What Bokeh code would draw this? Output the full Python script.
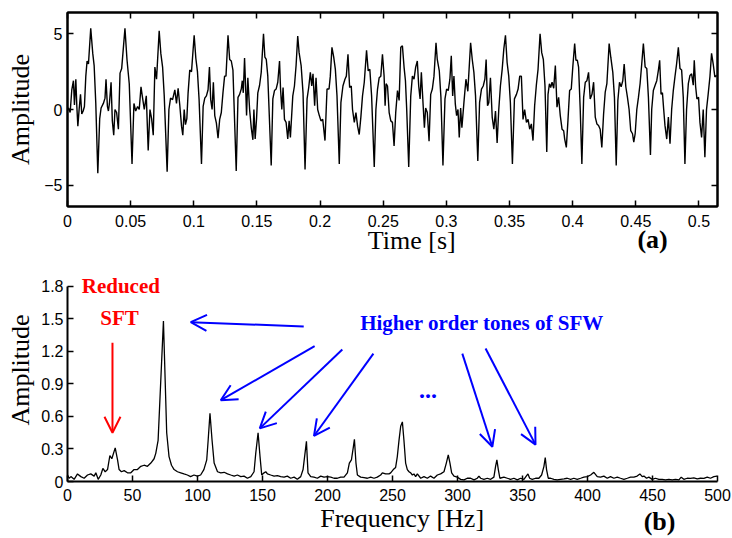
from bokeh.plotting import figure
from bokeh.layouts import column
from bokeh.models import (Range1d, LinearAxis, FixedTicker, Label, Arrow, OpenHead,
                          NumeralTickFormatter, CustomJSTickFormatter)
from bokeh.embed import file_html
from bokeh.resources import INLINE

# ---------------- data: (a) time signal ----------------
time_ms = [
    0, 0.8, 2.1, 3.4, 4.7, 5.5, 6.6, 7.4, 8.2, 9.2,
    10.3, 11.3, 12.4, 13.4, 14.5, 15.5, 16.6, 18.4, 20.0, 21.1,
    22.4, 24.0, 25.5, 26.6, 28.4, 29.7, 30.5, 31.6, 32.4, 33.2,
    34.5, 35.5, 36.6, 37.6, 38.9, 40.3, 41.6, 42.9, 45.5, 47.1,
    48.9, 51.1, 52.6, 54.0, 55.5, 56.8, 58.2, 59.2, 60.8, 62.4,
    63.9, 65.3, 66.6, 67.9, 69.2, 70.5, 72.6, 73.9, 75.3, 76.6,
    78.9, 80.3, 81.6, 83.2, 85.0, 86.3, 87.6, 88.9, 90.3, 91.3,
    92.4, 93.4, 94.5, 95.5, 96.8, 98.2, 100.3, 101.6, 102.9, 104.2,
    106.1, 107.4, 108.7, 110.0, 111.3, 112.4, 113.4, 114.5, 115.5, 116.6,
    117.9, 119.2, 120.5, 121.8, 123.1, 124.4, 125.5, 127.1, 128.4, 129.7,
    131.0, 133.6, 135.0, 136.3, 137.6, 138.4, 139.2, 140.2, 141.0, 141.8,
    142.8, 144.2, 145.5, 146.8, 147.6, 148.6, 149.7, 150.7, 152.1, 153.4,
    155.2, 156.3, 157.4, 158.6, 161.3, 162.6, 163.9, 165.2, 166.5, 167.9,
    168.7, 169.7, 170.7, 171.8, 173.1, 174.4, 175.5, 176.5, 178.4, 179.7,
    181.0, 182.3, 183.4, 185.0, 186.5, 188.1, 189.7, 191.0, 192.3, 193.4,
    194.4, 195.7, 196.8, 198.1, 199.4, 200.7, 202.1, 203.9, 205.5, 207.1,
    208.1, 209.4, 210.8, 212.1, 213.4, 215.2, 216.5, 218.1, 219.7, 220.8,
    222.1, 223.4, 224.7, 225.7, 227.1, 228.4, 229.7, 231.0, 232.3, 233.6,
    235.0, 236.8, 238.1, 239.4, 240.8, 242.9, 244.2, 245.5, 246.8, 248.1,
    249.4, 250.7, 251.5, 252.3, 253.4, 254.7, 256.0, 257.3, 258.6, 259.9,
    261.3, 262.6, 263.9, 265.2, 266.5, 267.6, 268.6, 270.2, 271.8, 273.1,
    274.4, 275.7, 277.0, 278.1, 279.2, 280.2, 281.5, 282.6, 283.6, 284.9,
    286.3, 287.6, 288.9, 290.2, 291.8, 292.8, 294.4, 295.7, 297.3, 298.9,
    300.2, 301.5, 302.8, 303.9, 305.0, 306.0, 307.1, 308.1, 309.2, 310.2,
    311.3, 312.3, 313.9, 315.5, 317.0, 319.2, 320.5, 321.8, 323.1, 324.9,
    326.3, 327.8, 329.2, 330.5, 331.5, 332.6, 333.6, 334.9, 336.3, 337.6,
    338.9, 340.2, 341.5, 342.8, 344.2, 345.5, 346.8, 348.1, 349.4, 350.7,
    352.3, 353.9, 355.5, 356.8, 358.1, 359.4, 360.7, 362.0, 363.4, 364.7,
    366.0, 367.3, 368.6, 369.9, 371.3, 372.6, 374.2, 375.5, 376.8, 378.1,
    379.5, 380.5, 381.6, 382.6, 383.7, 385.0, 386.3, 387.6, 388.9, 390.2,
    391.6, 392.9, 393.7, 395.0, 396.3, 397.6, 398.9, 400.2, 401.6, 402.6,
    403.7, 404.7, 406.0, 407.3, 408.7, 410.0, 411.3, 412.6, 413.9, 415.3,
    416.6, 417.9, 419.2, 420.5, 421.8, 423.1, 424.5, 425.8, 427.1, 428.9,
    430.2, 431.8, 433.1, 434.5, 435.8, 437.1, 438.4, 439.7, 440.8, 442.1,
    443.4, 444.7, 446.0, 447.4, 448.4, 449.5, 450.8, 452.1, 453.4, 454.7,
    456.0, 457.4, 458.7, 460.0, 461.6, 462.6, 463.9, 465.3, 466.6, 467.9,
    468.9, 470.0, 471.1, 472.1, 473.1, 474.5, 475.8, 477.1, 478.4, 479.7,
    481.0, 482.3, 483.7, 485.0, 486.3, 487.6, 488.9, 490.2, 491.6, 492.9,
    494.2, 495.5, 496.3, 497.4, 498.4, 499.7, 500.8, 502.1, 503.4, 504.7,
    506.0, 507.3, 508.7, 510.0, 511.3, 512.6, 514.0,
]
time_amp = [
    0.0, 0.1, -0.2, 1.3, 1.9, 0.3, 2.0, 0.2, -1.1, 0.0,
    1.0, -0.3, -0.1, 0.2, 2.2, 3.2, 3.0, 5.35, 3.7, 2.9,
    0.4, -4.2, -0.6, 0.1, 0.4, 0.75, 2.0, 0.2, -0.1, 0.4,
    1.8, -0.75, -1.7, 0.0, -0.2, -1.3, 2.4, 2.7, 5.35, 3.3,
    1.7, -3.6, 0.4, -0.1, 0.2, 0.0, 1.5, 0.9, 0.0, 0.9,
    -2.7, 0.0, -0.6, -1.7, 2.8, 2.0, 5.2, 3.7, 2.8, 0.9,
    -4.1, 0.0, 0.75, 0.65, 1.3, 0.4, 1.4, 0.3, -1.1, -1.7,
    0.0, -1.0, -0.6, 1.1, 2.6, 2.5, 4.9, 3.4, 2.5, 0.65,
    -3.6, 0.2, 0.75, 0.9, 1.3, 2.8, 0.65, 0.0, 1.8, -0.4,
    -0.9, -1.9, -0.65, -0.2, 1.1, 2.2, 2.2, 4.9, 3.3, 3.2,
    2.6, -4.05, 0.8, 1.0, 1.35, 1.9, 1.1, 3.4, 1.6, -0.4,
    2.1, 0.0, -1.2, -2.0, 0.0, -1.95, -0.6, 1.1, 1.6, 2.45,
    5.0, 3.45, 3.3, 2.2, -3.7, 0.7, 1.25, 1.35, 1.8, 3.2,
    1.35, 0.0, 1.45, -0.65, -0.85, -1.95, -0.75, -1.85, 0.9, 1.55,
    2.9, 4.85, 3.75, 2.9, 1.1, -3.95, 0.7, 1.45, 2.45, 1.55,
    2.35, 0.25, 2.1, 0.0, -0.4, -0.75, -0.65, -2.05, 1.35, 1.35,
    2.2, 4.1, 3.45, 2.65, 0.9, -3.6, 0.45, 1.55, 2.0, 2.2,
    3.65, 1.45, 1.55, 0.0, -0.85, -0.2, -1.1, -1.65, -0.5, 0.9,
    1.8, 3.9, 2.55, 2.65, 0.9, -3.8, 0.0, 1.35, 2.1, 2.2,
    3.65, 2.2, 0.25, 1.7, 1.55, -0.2, -0.75, -0.85, -2.4, -0.2,
    1.25, 0.6, 4.1, 4.2, 2.8, 1.9, 0.0, -3.8, 0.9, 2.2,
    2.0, 2.8, 3.2, 1.55, 0.7, 2.45, 0.45, -1.2, 0.1, -0.2,
    -2.1, 1.0, 1.35, 2.2, 4.4, 3.3, 2.55, 0.8, -3.7, 0.7,
    1.35, 1.25, 2.0, 3.55, 0.9, 2.2, 0.35, -0.4, 0.0, -1.85,
    0.1, -1.2, 0.45, 2.0, 1.2, 4.4, 3.3, 2.45, 0.9, -3.4,
    0.45, 1.35, 1.55, 2.0, 3.3, 0.25, 0.45, 2.1, -0.5, -1.3,
    -0.1, -2.2, 0.0, 1.55, 2.65, 4.0, 4.9, 3.1, 2.2, 0.45,
    -3.6, 0.7, 1.0, 1.35, 2.2, 2.2, -0.65, 0.0, -0.85, -0.65,
    -1.3, -0.95, -2.05, 0.25, 1.65, 2.65, 5.0, 3.75, 3.3, 1.55,
    -2.8, 1.0, 1.7, 1.45, 1.8, 1.4, 2.9, 0.15, 0.8, -0.4,
    -1.3, -1.4, -1.95, -2.5, -0.7, 1.25, 1.35, 2.9, 4.35, 3.25,
    3.25, 2.8, 0.0, -3.6, 0.8, 1.8, 1.9, 2.45, 0.7, 1.0,
    1.8, -0.5, -0.95, -1.05, -1.3, -2.5, -0.3, 1.15, 1.7, 4.35,
    3.45, 2.45, 0.8, -3.7, 0.6, 1.8, 1.5, 1.9, 3.0, 1.5,
    0.8, 0.0, -1.4, -1.6, -2.15, -1.6, 0.0, 0.8, 1.7, 3.0,
    4.35, 2.8, 2.7, 0.8, -3.0, 0.0, 1.25, 1.6, 1.9, 2.6,
    3.25, 1.0, 1.1, 0.0, -1.05, -1.95, -0.5, -2.25, 0.0, 1.25,
    2.15, 3.0, 4.1, 2.7, 2.6, 0.8, -3.6, 0.0, 1.7, 2.25,
    2.35, 1.6, 3.25, 1.5, 0.7, 0.8, -0.85, -1.85, 0.0, -3.15,
    0.0, 1.0, 2.15, 3.7, 3.0, 2.15, 2.25,
]
time_s = [t / 1000.0 for t in time_ms]

# ---------------- data: (b) spectrum ----------------
freq_hz = [
    0, 1.3, 2.6, 5.1, 7.7, 10.3, 12.8, 15.4, 17.9, 20.5,
    21.8, 23.6, 25.6, 27.2, 29.0, 30.8, 32.6, 34.1, 36.7, 38.5,
    39.7, 41.5, 43.6, 46.1, 48.7, 51.2, 53.8, 56.4, 58.9, 61.5,
    64.1, 66.6, 67.9, 69.7, 73.8, 76.3, 78.1, 80.0, 82.0, 84.6,
    87.1, 89.6, 92.2, 94.7, 97.3, 99.9, 102.4, 104.9, 107.1, 108.2,
    109.6, 111.2, 112.8, 115.4, 117.9, 120.5, 123.1, 125.6, 128.2, 130.7,
    133.3, 135.8, 138.4, 141.0, 143.5, 144.8, 146.6, 148.1, 149.4, 151.2,
    152.5, 153.8, 156.3, 158.9, 161.5, 164.0, 166.6, 169.1, 171.7, 174.3,
    176.8, 179.4, 181.2, 183.8, 185.0, 187.1, 189.6, 192.2, 194.8, 197.3,
    199.9, 202.5, 205.0, 207.6, 210.1, 212.7, 215.3, 216.8, 218.4, 219.9,
    220.7, 221.9, 223.0, 225.5, 228.1, 230.7, 233.2, 235.8, 238.3, 240.9,
    242.2, 244.7, 247.3, 248.6, 250.6, 252.4, 253.7, 255.0, 256.3, 257.6,
    258.8, 260.1, 261.4, 262.7, 264.0, 265.3, 266.5, 267.8, 269.1, 271.7,
    274.2, 276.8, 279.3, 281.9, 284.5, 287.0, 289.6, 291.4, 292.9, 294.2,
    295.5, 297.3, 299.8, 302.4, 305.0, 307.5, 310.1, 312.7, 315.2, 316.5,
    317.8, 320.3, 322.9, 325.5, 328.0, 329.3, 330.3, 331.4, 332.6, 335.7,
    338.3, 340.8, 343.4, 346.0, 348.5, 351.1, 352.9, 354.2, 355.5, 357.5,
    360.1, 362.6, 364.7, 366.5, 367.5, 368.5, 369.8, 371.6, 374.2, 376.7,
    379.3, 381.9, 384.4, 387.0, 389.5, 392.1, 394.7, 397.2, 399.8, 402.4,
    404.9, 407.5, 410.0, 412.6, 415.2, 417.7, 420.3, 422.9, 425.4, 428.0,
    430.6, 433.1, 435.7, 438.2, 440.3, 442.1, 443.4, 445.4, 447.2, 449.8,
    452.3, 454.9, 457.5, 460.0, 462.6, 465.2, 467.7, 470.3, 472.1, 474.1,
    476.7, 479.2, 481.8, 484.4, 486.9, 489.5, 492.1, 494.6, 497.2, 499.7,
]
freq_amp = [
    0.06, 0.03, 0.045, 0.02, 0.07, 0.045, 0.03, 0.06, 0.07, 0.05,
    0.08, 0.02, 0.06, 0.12, 0.09, 0.11, 0.24, 0.21, 0.31, 0.20,
    0.11, 0.09, 0.10, 0.08, 0.08, 0.11, 0.11, 0.14, 0.15, 0.14,
    0.17, 0.21, 0.26, 0.38, 1.48, 0.45, 0.23, 0.15, 0.11, 0.09,
    0.08, 0.07, 0.06, 0.045, 0.06, 0.05, 0.06, 0.11, 0.20, 0.38,
    0.63, 0.38, 0.17, 0.09, 0.08, 0.085, 0.07, 0.06, 0.05, 0.06,
    0.045, 0.05, 0.03, 0.045, 0.09, 0.26, 0.45, 0.23, 0.06, 0.08,
    0.09, 0.07, 0.06, 0.05, 0.055, 0.045, 0.04, 0.05, 0.03, 0.04,
    0.02, 0.045, 0.11, 0.37, 0.08, 0.045, 0.04, 0.03, 0.05, 0.04,
    0.045, 0.04, 0.03, 0.03, 0.04, 0.04, 0.08, 0.17, 0.20, 0.32,
    0.39, 0.17, 0.06, 0.04, 0.035, 0.03, 0.04, 0.03, 0.04, 0.06,
    0.08, 0.07, 0.07, 0.08, 0.11, 0.13, 0.23, 0.38, 0.51, 0.55,
    0.38, 0.17, 0.11, 0.09, 0.08, 0.06, 0.07, 0.045, 0.07, 0.03,
    0.045, 0.03, 0.05, 0.03, 0.06, 0.07, 0.09, 0.17, 0.245, 0.17,
    0.08, 0.05, 0.04, 0.02, 0.015, 0.03, 0.03, 0.015, 0.03, 0.05,
    0.03, 0.02, 0.03, 0.02, 0.04, 0.14, 0.20, 0.11, 0.03, 0.04,
    0.03, 0.02, 0.03, 0.015, 0.03, 0.02, 0.05, 0.07, 0.03, 0.02,
    0.03, 0.03, 0.06, 0.14, 0.22, 0.11, 0.03, 0.03, 0.02, 0.015,
    0.02, 0.025, 0.03, 0.02, 0.03, 0.02, 0.03, 0.04, 0.045, 0.06,
    0.085, 0.045, 0.04, 0.05, 0.03, 0.045, 0.03, 0.04, 0.03, 0.02,
    0.03, 0.04, 0.04, 0.05, 0.07, 0.045, 0.05, 0.03, 0.04, 0.02,
    0.03, 0.02, 0.02, 0.015, 0.02, 0.015, 0.02, 0.015, 0.04, 0.02,
    0.03, 0.028, 0.034, 0.025, 0.03, 0.028, 0.04, 0.03, 0.045, 0.05,
]

# ---------------- ticks ----------------
time_ticks = [0, 0.05, 0.1, 0.15, 0.2, 0.25, 0.3, 0.35, 0.4, 0.45, 0.5]
time_amp_ticks = [-5, 0, 5]
freq_ticks = [0, 50, 100, 150, 200, 250, 300, 350, 400, 450, 500]
freq_amp_ticks = [0, 0.3, 0.6, 0.9, 1.2, 1.5, 1.8]

# ---------------- annotations (data units) ----------------
time_title_x = 0.2726      # centre of "Time [s]"
panel_a_x = 0.4633         # centre of "(a)"
freq_title_x = 257.4       # centre of "Frequency [Hz]"
panel_b_x = 455.4          # centre of "(b)"
red_arrow_x = [34.6, 34.6]          # start, end
red_arrow_y = [1.28, 0.45]
blue_x_start = [181.7, 190.1, 211.4, 235.3, 303.7, 321.6]
blue_y_start = [1.43, 1.248, 1.218, 1.18, 1.18, 1.227]
blue_x_end = [94.8, 117.9, 147.9, 189.6, 326.8, 360.0]
blue_y_end = [1.47, 0.75, 0.49, 0.42, 0.32, 0.34]

SANS = "Liberation Sans"
SERIF = "Liberation Serif"


def style_axis(ax, ticks, fmt=None, labels=True):
    ax.ticker = FixedTicker(ticks=ticks, minor_ticks=[])
    ax.major_tick_in = 6
    ax.major_tick_out = 0
    ax.minor_tick_line_color = None
    ax.axis_line_width = 2
    ax.axis_line_color = "black"
    ax.major_tick_line_color = "black"
    ax.major_tick_line_width = 1.5
    ax.major_label_text_font = SANS
    ax.major_label_text_color = "black"
    ax.axis_label_text_color = "black"
    if fmt is not None:
        ax.formatter = fmt
    if labels:
        ax.major_label_text_font_size = "16px"
    else:
        ax.major_label_text_font_size = "1px"
        ax.major_label_text_color = None
        ax.major_label_standoff = 0


def text_axis(pos, text, standoff, bold=False):
    ax = LinearAxis(ticker=FixedTicker(ticks=[pos], minor_ticks=[]),
                    formatter=CustomJSTickFormatter(code="return %r;" % text))
    ax.axis_line_color = None
    ax.major_tick_line_color = None
    ax.minor_tick_line_color = None
    ax.major_tick_in = 0
    ax.major_tick_out = 0
    ax.major_label_standoff = standoff
    ax.major_label_text_font = SERIF
    ax.major_label_text_font_size = "26px"
    ax.major_label_text_color = "black"
    ax.major_label_text_font_style = "bold" if bold else "normal"
    return ax


# ---------------- panel (a) ----------------
p1 = figure(width=732, height=258, output_backend="svg", toolbar_location=None,
            x_range=Range1d(0, 0.5147), y_range=Range1d(-6.4, 6.4),
            min_border_left=66, min_border_right=15, min_border_top=12,
            min_border_bottom=52)
p1.xgrid.visible = False
p1.ygrid.visible = False
p1.outline_line_color = "black"
p1.outline_line_width = 2
p1.line(time_s, time_amp, line_color="black", line_width=1.4)

style_axis(p1.xaxis[0], time_ticks, NumeralTickFormatter(format="0.[00]"))
p1.xaxis[0].major_label_standoff = 8
style_axis(p1.yaxis[0], time_amp_ticks)
p1.yaxis[0].major_label_standoff = 5
p1.yaxis[0].axis_label = "Amplitude"
p1.yaxis[0].axis_label_text_font = SERIF
p1.yaxis[0].axis_label_text_font_size = "26px"
p1.yaxis[0].axis_label_text_font_style = "normal"
p1.yaxis[0].axis_label_text_color = "black"
p1.yaxis[0].axis_label_standoff = 6

ax_top = LinearAxis()
style_axis(ax_top, time_ticks, labels=False)
p1.add_layout(ax_top, "above")
ax_right = LinearAxis()
style_axis(ax_right, time_amp_ticks, labels=False)
p1.add_layout(ax_right, "right")

p1.add_layout(text_axis(time_title_x, "Time [s]", -4), "below")
p1.add_layout(text_axis(panel_a_x, "(a)", -33, bold=True), "below")

# ---------------- panel (b) ----------------
p2 = figure(width=732, height=280, output_backend="svg", toolbar_location=None,
            x_range=Range1d(0, 500), y_range=Range1d(0, 2.0575),
            min_border_left=67, min_border_right=15, min_border_top=0,
            min_border_bottom=56)
p2.xgrid.visible = False
p2.ygrid.visible = False
p2.outline_line_color = None
p2.line(freq_hz, freq_amp, line_color="black", line_width=1.3)

style_axis(p2.xaxis[0], freq_ticks)
p2.xaxis[0].major_label_standoff = 7
style_axis(p2.yaxis[0], freq_amp_ticks, NumeralTickFormatter(format="0.[0]"))
p2.yaxis[0].bounds = (0, 1.8)
p2.yaxis[0].major_label_standoff = 4
p2.yaxis[0].axis_label = "Amplitude"
p2.yaxis[0].axis_label_text_font = SERIF
p2.yaxis[0].axis_label_text_font_size = "26px"
p2.yaxis[0].axis_label_text_font_style = "normal"
p2.yaxis[0].axis_label_text_color = "black"
p2.yaxis[0].axis_label_standoff = 3

p2.add_layout(text_axis(freq_title_x, "Frequency [Hz]", 0), "below")
p2.add_layout(text_axis(panel_b_x, "(b)", -29, bold=True), "below")

# annotation texts
p2.add_layout(Label(x=41, y=1.805, text="Reduced", text_font=SERIF, text_font_size="21px",
                    text_font_style="bold", text_color="red", text_align="center",
                    text_baseline="middle"))
p2.add_layout(Label(x=40, y=1.51, text="SFT", text_font=SERIF, text_font_size="21px",
                    text_font_style="bold", text_color="red", text_align="center",
                    text_baseline="middle"))
p2.add_layout(Label(x=318.9, y=1.458, text="Higher order tones of SFW", text_font=SERIF,
                    text_font_size="21px", text_font_style="bold", text_color="blue",
                    text_align="center", text_baseline="middle"))
p2.add_layout(Label(x=277.4, y=0.835, text="...", text_font=SERIF, text_font_size="24px",
                    text_font_style="bold", text_color="blue", text_align="center",
                    text_baseline="alphabetic"))

p2.add_layout(Arrow(end=OpenHead(size=16, line_color="red", line_width=2),
                    x_start=red_arrow_x[0], y_start=red_arrow_y[0],
                    x_end=red_arrow_x[1], y_end=red_arrow_y[1],
                    line_color="red", line_width=2))
for xs, ys, xe, ye in zip(blue_x_start, blue_y_start, blue_x_end, blue_y_end):
    p2.add_layout(Arrow(end=OpenHead(size=16, line_color="blue", line_width=2),
                        x_start=xs, y_start=ys, x_end=xe, y_end=ye,
                        line_color="blue", line_width=2))

layout = column(p1, p2, spacing=0)
open("out.html", "w").write(file_html(layout, INLINE))
